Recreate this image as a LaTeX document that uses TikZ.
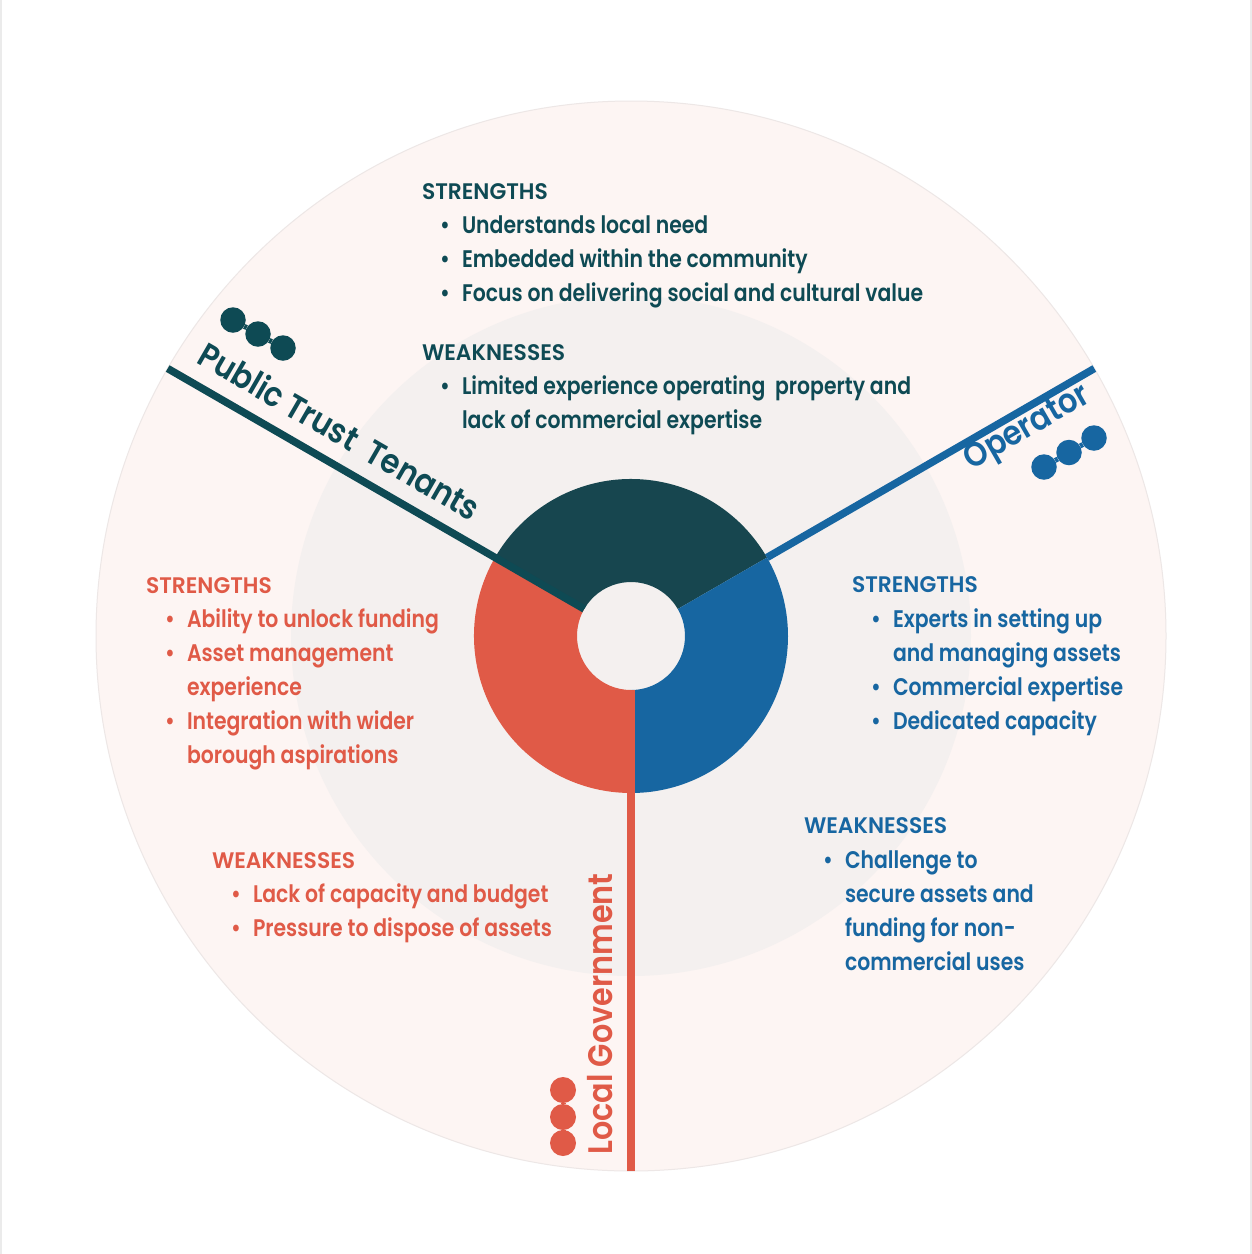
\documentclass[tikz,border=0pt]{standalone}
\usepackage{fontspec}
\setmainfont{Poppins}[UprightFont=* SemiBold, FakeStretch=0.85]
\newfontfamily\headfont{Poppins}[UprightFont=* SemiBold, FakeStretch=0.97]
\newfontfamily\labfont{Poppins}[UprightFont=* SemiBold, FakeStretch=0.89]
\usetikzlibrary{calc}
\definecolor{tealA}{HTML}{17464F}
\definecolor{tealB}{HTML}{0E4A54}
\definecolor{blueA}{HTML}{1766A1}
\definecolor{redA}{HTML}{E05A47}
\definecolor{ringOuter}{HTML}{FDF5F3}
\definecolor{ringMid}{HTML}{F4F0EF}
\definecolor{ringEdge}{HTML}{EDE7E6}
\tikzset{
  txt/.style={inner sep=0pt, outer sep=0pt, font=\fontsize{24}{24}\selectfont, anchor=base west},
  head/.style={txt, font=\headfont\fontsize{22.5}{22.5}\selectfont},
  lab/.style={inner sep=0pt, outer sep=0pt, font=\labfont\fontsize{34}{34}\selectfont, anchor=base},
  dotn/.style={circle, inner sep=0pt, minimum size=25.5pt},
  spoke/.style={line width=7.5pt, line cap=butt},
}
% name, colour, x, y(px from top), text
\newcommand\bitem[5]{%
  \node[txt, text=#2] (#1) at (#3,-#4) {#5};
  \node[txt, text=#2, anchor=base] (#1b) at (#3-17,-#4) {•};}
\newcommand\citem[5]{%
  \node[txt, text=#2] (#1) at (#3,-#4) {#5};}
\begin{document}
\begin{tikzpicture}[x=1pt,y=1pt]
\useasboundingbox (0,0) rectangle (1252,-1254);
\fill[white] (0,0) rectangle (1252,-1254);
\draw[black!8, line width=2pt] (1,0) -- (1,-1254);
\draw[black!8, line width=2pt] (1251,0) -- (1251,-1254);
\coordinate (c) at (631,-636);
\fill[ringOuter, draw=ringEdge, line width=1pt] (c) circle[radius=535];
\fill[ringMid] (c) circle[radius=340];
\begin{scope}[shift={(631,-636)}]
  \fill[tealA] (30:157) arc[start angle=30, end angle=150, radius=157] -- (150:54) arc[start angle=150, end angle=30, radius=54] -- cycle;
  \fill[blueA] (-90:157) arc[start angle=-90, end angle=30, radius=157] -- (30:54) arc[start angle=30, end angle=-90, radius=54] -- cycle;
  \fill[redA] (150:157) arc[start angle=150, end angle=270, radius=157] -- (270:54) arc[start angle=270, end angle=150, radius=54] -- cycle;
  \coordinate (t0) at (150:54);  \coordinate (t1) at (150:535);
  \coordinate (b0) at (30:157);  \coordinate (b1) at (30:535);
  \coordinate (r0) at (270:54);  \coordinate (r1) at (270:535);
\end{scope}
\draw[spoke, tealB] (t0) -- (t1);
\draw[spoke, blueA] (b0) -- (b1);
\draw[spoke, redA] (r0) -- (r1);

% labels
\node[lab, text=tealB, rotate=-30] (ptt) at ($(c)+(150:355)+(60:19)$) {Public Trust\ \ Tenants};
\node[lab, text=blueA, rotate=30] (op) at ($(c)+(30:447)+(-60:27)$) {Operator};
\node[lab, text=redA, rotate=90] (lg) at (612,-1014) {Local Government};

% dots
\node[dotn, fill=tealB] (td1) at (233,-320) {};
\node[dotn, fill=tealB] (td2) at (258,-334) {};
\node[dotn, fill=tealB] (td3) at (283,-348) {};
\draw[tealB, line width=5pt] (td1) -- (td2) -- (td3);
\node[dotn, fill=blueA] (bd1) at (1044,-467) {};
\node[dotn, fill=blueA] (bd2) at (1069,-452.5) {};
\node[dotn, fill=blueA] (bd3) at (1094,-438) {};
\draw[blueA, line width=5pt] (bd1) -- (bd2) -- (bd3);
\node[dotn, fill=redA, minimum size=26pt] (rd1) at (563,-1090) {};
\node[dotn, fill=redA, minimum size=26pt] (rd2) at (563,-1117) {};
\node[dotn, fill=redA, minimum size=26pt] (rd3) at (563,-1143) {};
\draw[redA, line width=5pt] (rd1) -- (rd2) -- (rd3);

% top block (teal)
\node[head, text=tealB] (ths) at (422,-199) {STRENGTHS};
\bitem{ts1}{tealB}{462}{233}{Understands local need}
\bitem{ts2}{tealB}{462}{267}{Embedded within the community}
\bitem{ts3}{tealB}{462}{301}{Focus on delivering social and cultural value}
\node[head, text=tealB] (thw) at (422,-360) {WEAKNESSES};
\bitem{tw1}{tealB}{462}{394}{Limited experience operating\ \ property and}
\citem{tw2}{tealB}{462}{428}{lack of commercial expertise}

% left block (red strengths)
\node[head, text=redA] (rhs) at (146,-593) {STRENGTHS};
\bitem{rs1}{redA}{187}{627}{Ability to unlock funding}
\bitem{rs2}{redA}{187}{661}{Asset management}
\citem{rs3}{redA}{187}{695}{experience}
\bitem{rs4}{redA}{187}{729}{Integration with wider}
\citem{rs5}{redA}{187}{763}{borough aspirations}

% right block (blue strengths)
\node[head, text=blueA] (bhs) at (852,-592) {STRENGTHS};
\bitem{bs1}{blueA}{893}{627}{Experts in setting up}
\citem{bs2}{blueA}{893}{661}{and managing assets}
\bitem{bs3}{blueA}{893}{695}{Commercial expertise}
\bitem{bs4}{blueA}{893}{729}{Dedicated capacity}

% red weaknesses
\node[head, text=redA] (rhw) at (212,-868) {WEAKNESSES};
\bitem{rw1}{redA}{253}{902}{Lack of capacity and budget}
\bitem{rw2}{redA}{253}{936}{Pressure to dispose of assets}

% blue weaknesses
\node[head, text=blueA] (bhw) at (804,-833) {WEAKNESSES};
\bitem{bw1}{blueA}{845}{868}{Challenge to}
\citem{bw2}{blueA}{845}{902}{secure assets and}
\citem{bw3}{blueA}{845}{936}{funding for non-}
\citem{bw4}{blueA}{845}{970}{commercial uses}
\end{tikzpicture}
\end{document}
